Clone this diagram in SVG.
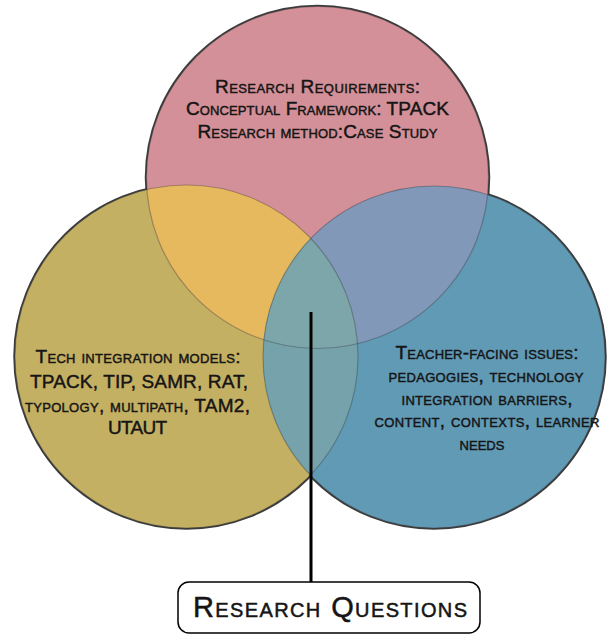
<svg xmlns="http://www.w3.org/2000/svg" width="607" height="636" viewBox="0 0 607 636">
  <style>
    .lbl { font-family: "Liberation Sans", Arial, sans-serif; font-variant: small-caps; fill: #151515; stroke: #151515; stroke-width: 0.45; text-anchor: middle; }
    .body { font-size: 19px; }
    .big { font-size: 29px; stroke-width: 0.5; }
    .edge { fill: none; stroke: #3d3d3d; stroke-width: 3.5; }
    .inner { fill: none; stroke: #333; stroke-width: 1.2; stroke-opacity: 0.35; }
  </style>
  <defs>
    <circle id="c-top" cx="317.5" cy="177.5" r="171"/>
    <circle id="c-left" cx="186.5" cy="356.5" r="171.5"/>
    <circle id="c-right" cx="434" cy="357" r="171"/>
    <clipPath id="in-top"><use href="#c-top"/></clipPath>
    <clipPath id="in-left"><use href="#c-left"/></clipPath>
  </defs>

  <rect width="607" height="636" fill="#ffffff"/>

  <!-- outer outlines, drawn under the fills so only the outside half shows -->
  <g id="outlines">
    <use href="#c-top" class="edge"/>
    <use href="#c-left" class="edge"/>
    <use href="#c-right" class="edge"/>
  </g>

  <!-- single-set areas -->
  <g id="models-area"><use href="#c-left" fill="#c4b062"/></g>
  <g id="requirements-area"><use href="#c-top" fill="#d49098"/></g>
  <g id="issues-area"><use href="#c-right" fill="#619ab5"/></g>

  <!-- overlap areas -->
  <g id="overlaps">
    <use href="#c-left" fill="#e6b95e" clip-path="url(#in-top)"/>
    <use href="#c-right" fill="#8298b9" clip-path="url(#in-top)"/>
    <use href="#c-right" fill="#76a2ac" clip-path="url(#in-left)"/>
    <g clip-path="url(#in-top)">
      <use href="#c-right" fill="#7ca6aa" clip-path="url(#in-left)"/>
    </g>
  </g>

  <!-- faint arcs inside the overlaps -->
  <g id="inner-arcs">
    <use href="#c-top" class="inner"/>
    <use href="#c-left" class="inner"/>
    <use href="#c-right" class="inner"/>
  </g>

  <g id="requirements">
    <text class="lbl body" x="317.5" y="93" textLength="205">Research Requirements:</text>
    <text class="lbl body" x="317.5" y="115" textLength="263">Conceptual Framework: TPACK</text>
    <text class="lbl body" x="317.5" y="138" textLength="240">Research method:Case Study</text>
  </g>

  <g id="models">
    <text class="lbl body" x="138" y="363" textLength="205">Tech integration models:</text>
    <text class="lbl body" x="139" y="388" textLength="218">TPACK, TIP, SAMR, RAT,</text>
    <text class="lbl body" x="137.5" y="412" textLength="225">typology, multipath, TAM2,</text>
    <text class="lbl body" x="137.5" y="434" textLength="59">UTAUT</text>
  </g>

  <g id="issues">
    <text class="lbl body" x="487" y="359" textLength="183">Teacher-facing issues:</text>
    <text class="lbl body" x="486" y="382" textLength="195">pedagogies, technology</text>
    <text class="lbl body" x="487" y="405" textLength="171">integration barriers,</text>
    <text class="lbl body" x="487" y="427" textLength="225">content, contexts, learner</text>
    <text class="lbl body" x="482" y="450">needs</text>
  </g>

  <g id="connectors">
    <line x1="311" y1="312" x2="311" y2="582" stroke="#000" stroke-width="3"/>
  </g>

  <g id="questions">
    <rect x="178" y="582" width="302" height="51" rx="11" fill="#ffffff" stroke="#000" stroke-width="1.5"/>
    <text class="lbl big" x="330" y="617" textLength="274">Research Questions</text>
  </g>
</svg>
